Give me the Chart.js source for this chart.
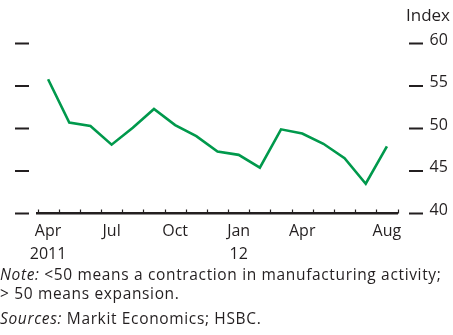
<!DOCTYPE html>
<html>
<head>
<meta charset="utf-8">
<script src="https://cdn.jsdelivr.net/npm/chart.js@4/dist/chart.umd.min.js"></script>
<style>
  body { margin: 0; background: #fff; }
  #wrap { position: relative; width: 453px; height: 335px; font-family: "Open Sans", sans-serif; color: #231f20; }
  #wrap canvas { position: absolute; left: 0; top: 0; }
  .txt { position: absolute; white-space: nowrap; }
  .note { font-size: 15.5px; letter-spacing: 0.65px; }
</style>
</head>
<body>
<div id="wrap">
  <canvas id="pmiChart" width="453" height="335"></canvas>
  <div class="txt" style="left:406px; top:3px; font-size:17px;">Index</div>
  <div class="txt note" style="left:0px; top:265px; line-height:19px;"><i>Note:</i> &lt;50 means a contraction in manufacturing activity;<br>&gt; 50 means expansion.</div>
  <div class="txt note" style="left:0px; top:307px;"><i>Sources:</i> Markit Economics; HSBC.</div>
</div>
<script>
// monthly data, Apr 2011 - Aug 2012
const months = ['Apr 2011', 'May 2011', 'Jun 2011', 'Jul 2011', 'Aug 2011', 'Sep 2011',
  'Oct 2011', 'Nov 2011', 'Dec 2011', 'Jan 2012', 'Feb 2012', 'Mar 2012',
  'Apr 2012', 'May 2012', 'Jun 2012', 'Jul 2012', 'Aug 2012'];
const pmiValues = [55.8, 50.7, 50.3, 48.1, 50.1, 52.3, 50.4, 49.1, 47.3, 46.9, 45.4,
  49.9, 49.4, 48.2, 46.5, 43.5, 47.9];
const xTickLabels = [['Apr', '2011'], '', '', 'Jul', '', '', 'Oct', '', '', ['Jan', '12'],
  '', '', 'Apr', '', '', '', 'Aug'];
const yTicks = [40, 45, 50, 55, 60];

const ink = '#231f20';

// side dashes and the small upward ticks on the x axis
const axisMarks = {
  id: 'axisMarks',
  afterDraw(chart) {
    const ctx = chart.ctx;
    const x = chart.scales.x, y = chart.scales.y;
    const bottom = chart.chartArea.bottom;
    ctx.save();
    ctx.strokeStyle = ink;
    ctx.lineWidth = 1.8;
    yTicks.forEach(v => {
      const py = y.getPixelForValue(v);
      ctx.beginPath();
      ctx.moveTo(15, py); ctx.lineTo(29, py);
      ctx.moveTo(409, py); ctx.lineTo(423, py);
      ctx.stroke();
    });
    ctx.lineWidth = 1.2;
    for (let i = 0; i <= months.length; i++) {
      const px = Math.round(x.getPixelForValue(i - 0.5)) + 0.5;
      ctx.beginPath();
      ctx.moveTo(px, bottom);
      ctx.lineTo(px, bottom - 4);
      ctx.stroke();
    }
    ctx.restore();
  }
};

new Chart(document.getElementById('pmiChart'), {
  type: 'line',
  data: {
    labels: months,
    datasets: [{
      data: pmiValues,
      borderColor: '#00994c',
      borderWidth: 2.6,
      pointRadius: 0,
      tension: 0,
      fill: false
    }]
  },
  options: {
    responsive: false,
    animation: false,
    layout: { padding: { left: 37.5, top: 43.5, right: 0, bottom: 0 } },
    plugins: { legend: { display: false }, tooltip: { enabled: false } },
    scales: {
      x: {
        offset: true,
        grid: { display: false, offset: true, drawTicks: false },
        border: { display: true, color: ink, width: 2.5 },
        ticks: {
          autoSkip: false,
          maxRotation: 0,
          padding: 6,
          color: ink,
          font: { family: 'Open Sans', size: 16, lineHeight: 1.45 },
          callback: (v, i) => xTickLabels[i]
        },
        afterFit: s => { s.height = 335 - 213.5; }
      },
      y: {
        position: 'right',
        min: 40,
        max: 60,
        grid: { display: false, drawTicks: false },
        border: { display: false },
        ticks: {
          stepSize: 5,
          padding: 32,
          labelOffset: -3.5,
          color: ink,
          font: { family: 'Open Sans', size: 16 }
        },
        afterFit: s => { s.width = 453 - 397.5; }
      }
    }
  },
  plugins: [axisMarks]
});
</script>
</body>
</html>
